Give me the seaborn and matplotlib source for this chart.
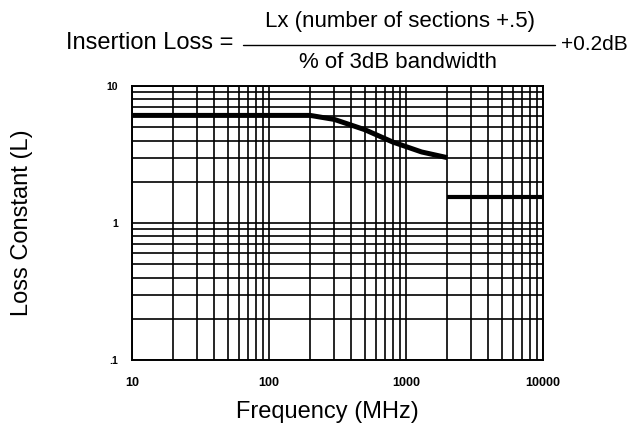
import numpy as np, pandas as pd
import matplotlib; matplotlib.use("Agg"); import matplotlib.pyplot as plt
import matplotlib.ticker as mticker
import seaborn as sns

# values
freq_a = [10, 200, 300, 500, 800, 1300, 2000]      # MHz
loss_a = [6.1, 6.1, 5.7, 4.8, 3.9, 3.3, 3.0]
freq_b = [2000, 10000]
loss_b = [1.55, 1.55]
xticks = [10, 100, 1000, 10000]
xlabels = ["10", "100", "1000", "10000"]
yticks = [0.1, 1, 10]
ylabels = [".1", "1", "10"]

sns.set_style("white")
plt.rcParams["font.family"] = ["Liberation Sans", "DejaVu Sans"]
plt.rcParams.update({"text.color": "black", "axes.labelcolor": "black",
                     "xtick.color": "black", "ytick.color": "black"})

df = pd.concat([pd.DataFrame({"f": freq_a, "L": loss_a, "seg": "a"}),
                pd.DataFrame({"f": freq_b, "L": loss_b, "seg": "b"})])

fig = plt.figure(figsize=(6.31, 4.24), dpi=100)
ax = fig.add_axes([132/631, 1-360/424, 411/631, 274/424])
ax.set_xscale("log"); ax.set_yscale("log")
ax.set_xlim(10, 10000); ax.set_ylim(0.1, 10)

sns.lineplot(data=df[df.seg == "a"], x="f", y="L", ax=ax, color="black",
             lw=3.6, solid_capstyle="butt", estimator=None, sort=False)
sns.lineplot(data=df[df.seg == "b"], x="f", y="L", ax=ax, color="black",
             lw=3.0, solid_capstyle="butt", estimator=None, sort=False)

ax.xaxis.set_minor_locator(mticker.LogLocator(base=10, subs=np.arange(2, 10)))
ax.yaxis.set_minor_locator(mticker.LogLocator(base=10, subs=np.arange(2, 10)))
ax.xaxis.set_minor_formatter(mticker.NullFormatter())
ax.yaxis.set_minor_formatter(mticker.NullFormatter())
ax.grid(True, which="both", color="black", lw=1.2)
for s in ax.spines.values():
    s.set_color("black"); s.set_linewidth(1.4)
ax.tick_params(which="both", length=0)
ax.set_xticks(xticks); ax.set_xticklabels(xlabels, fontsize=9, fontweight="bold")
ax.set_yticks(yticks); ax.set_yticklabels(ylabels, fontsize=7.5, fontweight="bold")
ax.tick_params(axis="x", pad=12)
ax.tick_params(axis="y", pad=10)

ax.set_xlabel("Frequency (MHz)", fontsize=17)
ax.set_ylabel("Loss Constant (L)", fontsize=17)
ax.xaxis.set_label_coords(0.476, -0.148)
ax.yaxis.set_label_coords(-0.241, 0.5)

# formula heading
fs = 16
fig.text(233/631, 1-43/424, "Insertion Loss =", fontsize=17, va="center", ha="right")
fig.text(400/631, 1-21/424, "Lx (number of sections +.5)", fontsize=fs, va="center", ha="center")
fig.text(398/631, 1-63/424, "% of 3dB bandwidth", fontsize=fs, va="center", ha="center")
fig.text(628/631, 1-44/424, "+0.2dB", fontsize=15, va="center", ha="right")
fig.add_artist(plt.Line2D([243/631, 555/631], [1-45/424, 1-45/424], color="black", lw=1.0))

plt.savefig("out.png", dpi=100)
